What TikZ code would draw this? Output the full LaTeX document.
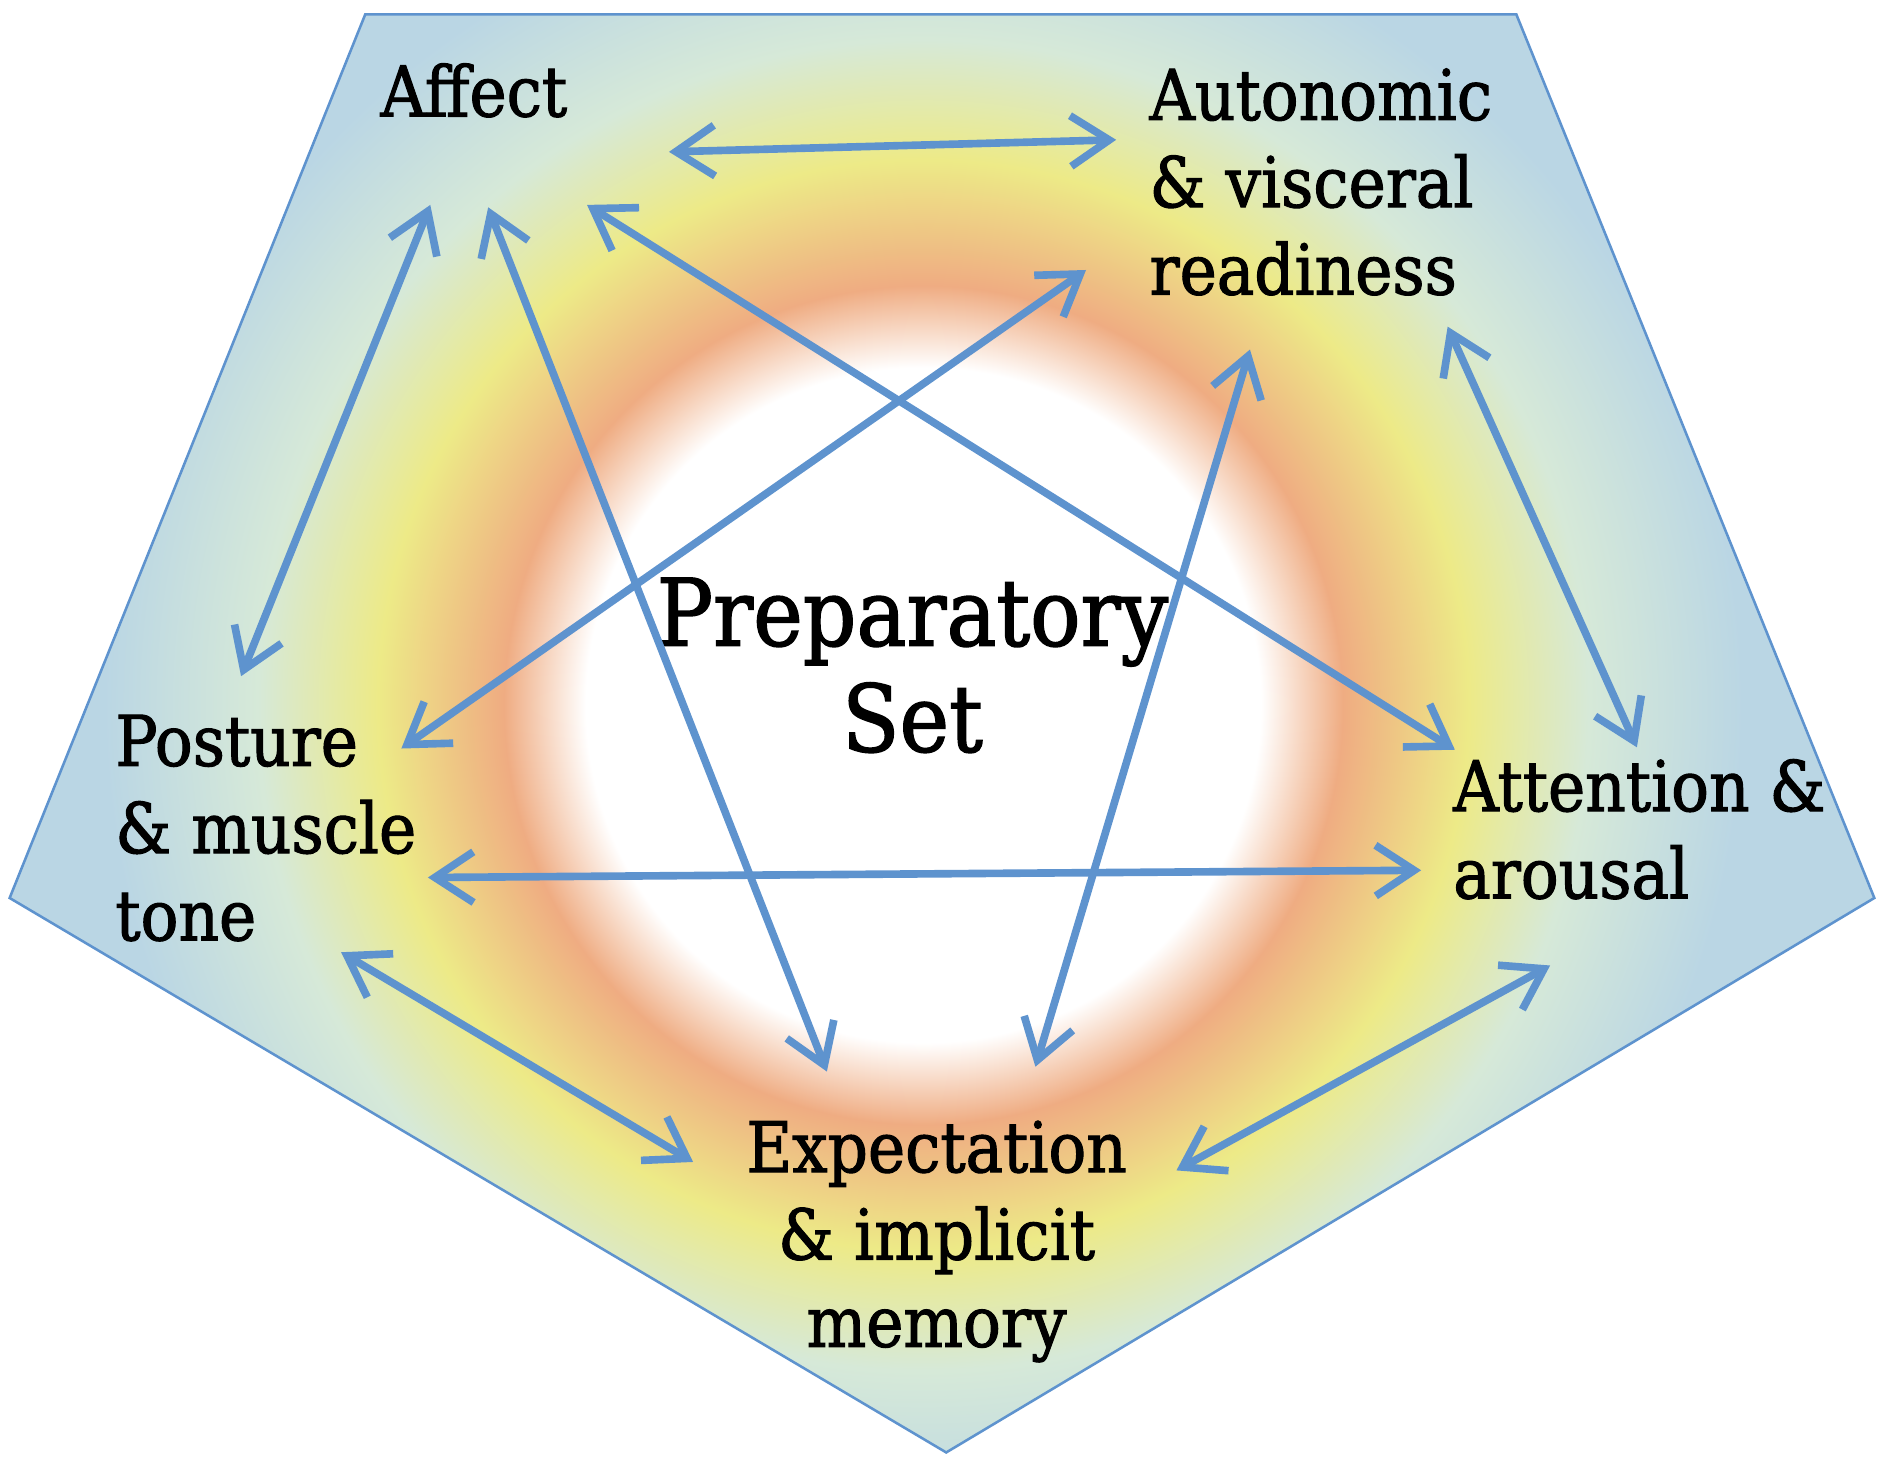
\documentclass[tikz,border=0pt]{standalone}
\usepackage{fontspec}
\setmainfont{DejaVu Serif Condensed}[FakeBold=1.5, UprightFeatures={FakeBold=1.5}]
\usepackage{tikz}
\usetikzlibrary{arrows.meta}

\definecolor{linkblue}{RGB}{94,147,206}
\definecolor{ringorange}{RGB}{239,172,130}
\definecolor{ringyellow}{RGB}{237,234,135}
\definecolor{ringpale}{RGB}{214,233,216}
\definecolor{ringblue}{RGB}{186,214,228}

% white core, orange ring, yellow, pale blue rim (25bp = circle radius)
\pgfdeclareradialshading{prepring}{\pgfpoint{0bp}{0bp}}{%
  color(0bp)=(white); color(7bp)=(white); color(8.7bp)=(ringorange);
  color(11.3bp)=(ringyellow); color(13.8bp)=(ringpale); color(17bp)=(ringblue);
  color(25bp)=(ringblue); color(50bp)=(ringblue)}

\tikzset{
  link/.style={draw=linkblue, line width=1.8pt,
    {Straight Barb[length=3.2mm,width=4.2mm]}-{Straight Barb[length=3.2mm,width=4.2mm]}},
  setlabel/.style={font=\fontsize{16.5}{20.6}\selectfont, align=left, inner sep=0pt}
}

\begin{document}
\begin{tikzpicture}
	\path[use as bounding box] (0,0) rectangle (15.68,12.15);
	\begin{scope}
		\clip (3.03,12.03) -- (12.58,12.03) -- (15.55,4.70) -- (7.85,0.10) -- (0.08,4.70) -- cycle;
		\shade[shading=prepring] (7.66,6.30) circle (10);
	\end{scope}
	\draw[linkblue, line width=0.6pt] (3.03,12.03) -- (12.58,12.03) -- (15.55,4.70) -- (7.85,0.10) -- (0.08,4.70) -- cycle;

	\node[setlabel, anchor=west] (affect) at (3.15,11.40) {Affect};
	\node[setlabel, anchor=west] (auto) at (9.53,10.64) {Autonomic\\\& visceral\\readiness};
	\node[setlabel, anchor=west] (posture) at (0.95,5.28) {Posture\\\& muscle\\tone};
	\node[setlabel, anchor=west] (attention) at (12.05,5.27) {Attention \&\\arousal};
	\node[setlabel, align=center] (expect) at (7.77,1.85) {Expectation\\\& implicit\\memory};
	\node[font=\fontsize{22}{25}\selectfont, align=center, inner sep=0pt] (prep) at (7.57,6.63) {Preparatory\\Set};

	% arrow ends, named <at>-<towards>
	\foreach \n/\x/\y in {af-au/5.55/10.89, au-af/9.26/10.99,
		af-po/3.57/10.45, po-af/2.00/6.54, af-ex/4.05/10.43, ex-af/6.86/3.26,
		af-at/4.87/10.45, at-af/12.07/5.93, po-au/3.33/5.94, au-po/9.01/9.91,
		ex-au/8.59/3.30, au-ex/10.37/9.25, au-at/12.01/9.44, at-au/13.58/5.95,
		po-at/3.55/4.87, at-po/11.79/4.93, po-ex/2.83/4.25, ex-po/5.75/2.51,
		ex-at/9.76/2.44, at-ex/12.86/4.14}
	{\coordinate (\n) at (\x,\y);}
	\foreach \p/\q in {af/au, af/po, af/ex, af/at, po/au, ex/au, au/at, po/at, po/ex, ex/at}
	{\draw[link] (\p-\q) -- (\q-\p);}
\end{tikzpicture}
\end{document}
